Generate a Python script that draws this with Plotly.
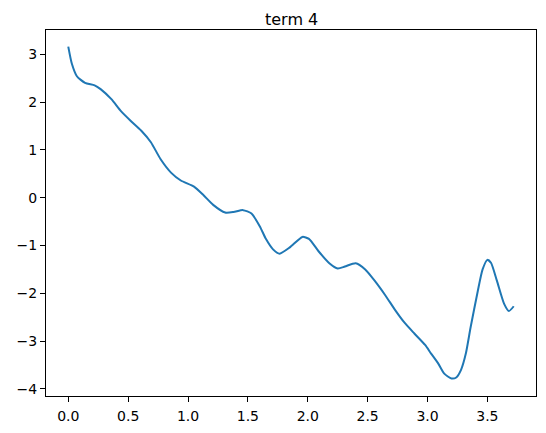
import plotly.graph_objects as go

x_vals = [0, 0.03, 0.072, 0.14, 0.22, 0.27, 0.36, 0.44, 0.52, 0.61, 0.69, 0.77, 0.86, 0.94,
          1.05, 1.13, 1.21, 1.31, 1.38, 1.46, 1.53, 1.60, 1.65, 1.71, 1.765, 1.85, 1.955, 2.01,
          2.09, 2.18, 2.25, 2.31, 2.40, 2.48, 2.56, 2.65, 2.73, 2.81, 2.89, 2.98, 3.03, 3.09,
          3.14, 3.20, 3.24, 3.28, 3.32, 3.36, 3.42, 3.46, 3.50, 3.53, 3.58, 3.64, 3.68, 3.72]
y_vals = [3.16, 2.80, 2.54, 2.40, 2.35, 2.27, 2.06, 1.81, 1.61, 1.40, 1.16, 0.81, 0.52, 0.36,
          0.23, 0.05, -0.15, -0.31, -0.30, -0.26, -0.33, -0.60, -0.86, -1.08, -1.17, -1.04, -0.82, -0.86,
          -1.12, -1.37, -1.48, -1.44, -1.37, -1.50, -1.74, -2.05, -2.35, -2.62, -2.84, -3.08, -3.26, -3.47,
          -3.68, -3.78, -3.76, -3.60, -3.26, -2.71, -1.95, -1.50, -1.30, -1.36, -1.74, -2.22, -2.37, -2.27]
x_ticks = [0.0, 0.5, 1.0, 1.5, 2.0, 2.5, 3.0, 3.5]
y_ticks = [-4, -3, -2, -1, 0, 1, 2, 3]
title_text = "term 4"

fig = go.Figure()
fig.add_trace(go.Scatter(x=x_vals, y=y_vals, mode="lines",
                         line=dict(color="#1f77b4", width=2, shape="spline", smoothing=0.6),
                         showlegend=False))

axis_common = dict(showgrid=False, zeroline=False, showline=True, linecolor="black",
                   linewidth=1.1, mirror=True, ticks="outside", ticklen=5, tickwidth=1.1,
                   tickcolor="black", tickfont=dict(family="DejaVu Sans", size=14, color="black"))

# the page places the figure 8px from the top-left corner, so size/margins compensate
fig.update_layout(
    width=538, height=425,
    margin=dict(l=32, r=9, t=22, b=34, pad=0),
    plot_bgcolor="white", paper_bgcolor="white",
    xaxis=dict(range=[-0.186, 3.906], tickvals=x_ticks, tickformat=".1f",
               ticklabelstandoff=2, **axis_common),
    yaxis=dict(range=[-4.147, 3.507], tickvals=y_ticks, **axis_common),
    annotations=[dict(text=title_text, x=0.5, y=1, xref="paper", yref="paper",
                      xanchor="center", yanchor="bottom", yshift=0, showarrow=False,
                      borderpad=0,
                      font=dict(family="DejaVu Sans", size=16, color="black"))],
)

fig.write_html("out.html")
